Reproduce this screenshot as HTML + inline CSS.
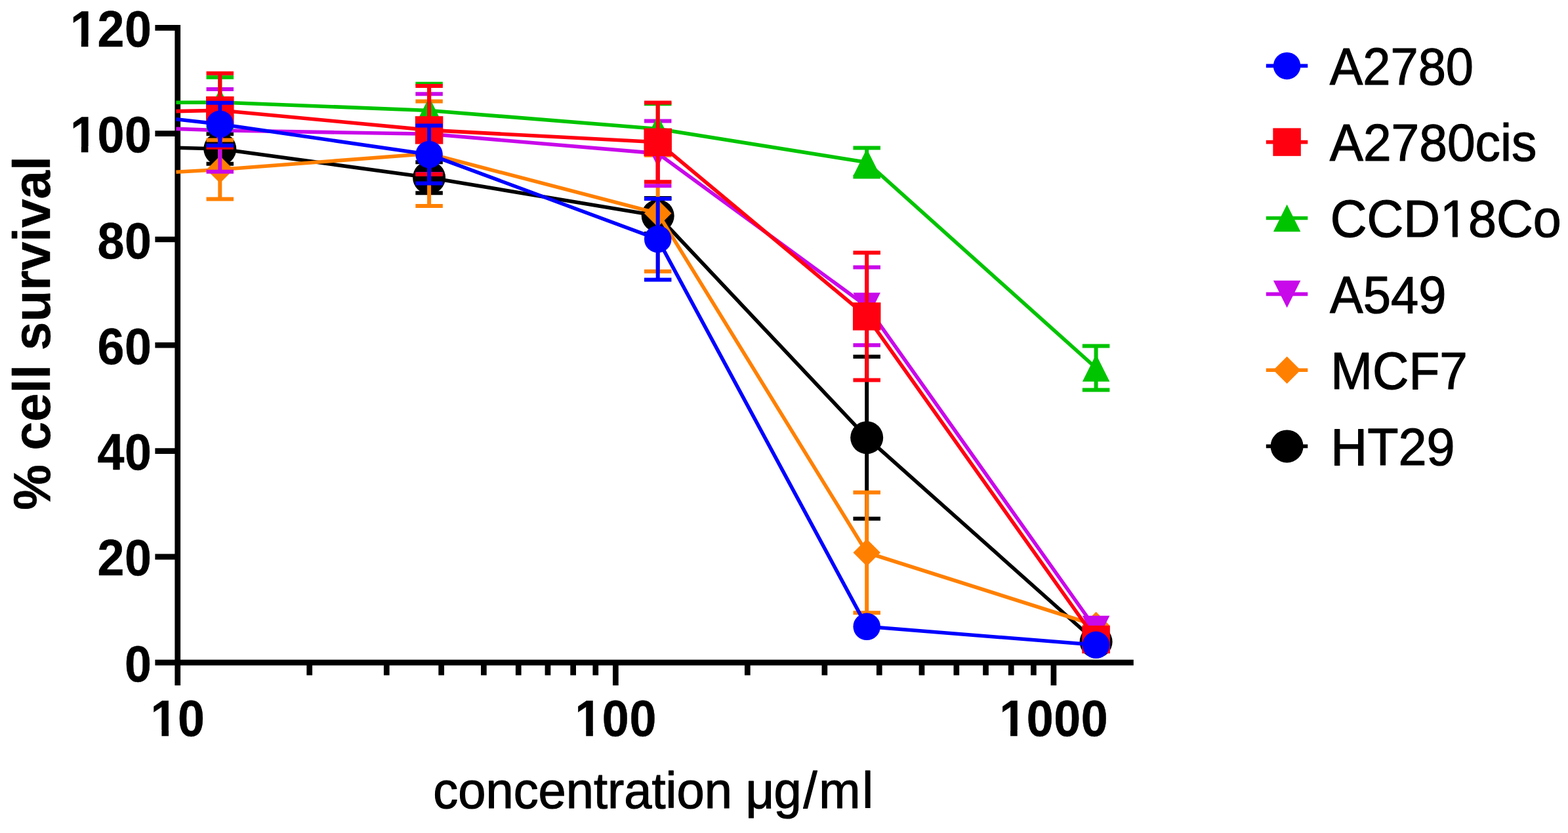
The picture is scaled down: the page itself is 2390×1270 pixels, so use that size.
<!DOCTYPE html>
<html lang="en"><head><meta charset="utf-8"><title>% cell survival vs concentration</title>
<style>
html,body{margin:0;padding:0;background:#fff;}
body{width:2390px;height:1270px;overflow:hidden;}
svg{display:block;filter:blur(0.75px);}
text{font-family:"Liberation Sans",Arial,Helvetica,sans-serif;fill:#000;}
.b{font-weight:bold;}
.r{stroke:#000;stroke-width:1.2px;stroke-linejoin:round;}
.b{stroke:#000;stroke-width:0.5px;stroke-linejoin:round;}
</style></head><body>
<svg width="2390" height="1270" viewBox="0 0 2390 1270" role="img" aria-label="Percent cell survival versus concentration for six cell lines">
<rect width="2390" height="1270" fill="#fff"/>
<g id="axes" stroke="#000" stroke-width="8.7" fill="none" stroke-linecap="butt">
<path d="M270.75 38.05 V1044.9"/>
<path d="M236.4 1010.15 H1727.8"/>
<path d="M236.4 848.86 H270.75 M236.4 687.57 H270.75 M236.4 526.27 H270.75 M236.4 364.98 H270.75 M236.4 203.69 H270.75 M236.4 42.4 H270.75 M938.35 1010.15 V1044.9 M1605.95 1010.15 V1044.9 M471.72 1010.15 V1029.6 M589.28 1010.15 V1029.6 M672.69 1010.15 V1029.6 M737.38 1010.15 V1029.6 M790.24 1010.15 V1029.6 M834.94 1010.15 V1029.6 M873.65 1010.15 V1029.6 M907.8 1010.15 V1029.6 M1139.32 1010.15 V1029.6 M1256.88 1010.15 V1029.6 M1340.29 1010.15 V1029.6 M1404.98 1010.15 V1029.6 M1457.84 1010.15 V1029.6 M1502.54 1010.15 V1029.6 M1541.25 1010.15 V1029.6 M1575.4 1010.15 V1029.6"/>
</g>
<g id="ds-HT29">
<path d="M268.4 225.2 L335.3 227 L654.1 270.8 L1002.7 329 L1321.2 667.2 L1670.6 978.5" fill="none" stroke="#000000" stroke-width="5.6" stroke-linejoin="round" stroke-linecap="butt"/>
<path d="M335.3 204.3 V249.7 M314.55 204.3 H356.05 M314.55 249.7 H356.05 M654.1 247.3 V294.3 M633.35 247.3 H674.85 M633.35 294.3 H674.85 M1002.7 302 V356 M981.95 302 H1023.45 M981.95 356 H1023.45 M1321.2 543.7 V790.7 M1300.45 543.7 H1341.95 M1300.45 790.7 H1341.95" fill="none" stroke="#000000" stroke-width="6"/>
<circle cx="335.3" cy="227" r="25" fill="#000000"/>
<circle cx="654.1" cy="270.8" r="25" fill="#000000"/>
<circle cx="1002.7" cy="329" r="25" fill="#000000"/>
<circle cx="1321.2" cy="667.2" r="25" fill="#000000"/>
<circle cx="1670.6" cy="978.5" r="25" fill="#000000"/>
</g>
<g id="ds-MCF7">
<path d="M268.4 262.3 L335.3 258.5 L654.1 234.3 L1002.7 325.3 L1321.2 842.5 L1670.6 953.5" fill="none" stroke="#ff8000" stroke-width="5.6" stroke-linejoin="round" stroke-linecap="butt"/>
<path d="M335.3 213.6 V303.4 M314.55 213.6 H356.05 M314.55 303.4 H356.05 M654.1 154.6 V314 M633.35 154.6 H674.85 M633.35 314 H674.85 M1002.7 236.8 V413.8 M981.95 236.8 H1023.45 M981.95 413.8 H1023.45 M1321.2 750.75 V934.25 M1300.45 750.75 H1341.95 M1300.45 934.25 H1341.95" fill="none" stroke="#ff8000" stroke-width="6"/>
<polygon points="335.3,237.75 356.05,258.5 335.3,279.25 314.55,258.5" fill="#ff8000"/>
<polygon points="654.1,213.55 674.85,234.3 654.1,255.05 633.35,234.3" fill="#ff8000"/>
<polygon points="1002.7,304.55 1023.45,325.3 1002.7,346.05 981.95,325.3" fill="#ff8000"/>
<polygon points="1321.2,821.75 1341.95,842.5 1321.2,863.25 1300.45,842.5" fill="#ff8000"/>
<polygon points="1670.6,932.75 1691.35,953.5 1670.6,974.25 1649.85,953.5" fill="#ff8000"/>
</g>
<g id="ds-A549">
<path d="M268.4 196.4 L335.3 198.8 L654.1 204.3 L1002.7 233.85 L1321.2 466.9 L1670.6 959.5" fill="none" stroke="#c809ea" stroke-width="5.6" stroke-linejoin="round" stroke-linecap="butt"/>
<path d="M335.3 135.9 V261.7 M314.55 135.9 H356.05 M314.55 261.7 H356.05 M654.1 143.3 V265.3 M633.35 143.3 H674.85 M633.35 265.3 H674.85 M1002.7 184.4 V283.3 M981.95 184.4 H1023.45 M981.95 283.3 H1023.45 M1321.2 407.6 V526.2 M1300.45 407.6 H1341.95 M1300.45 526.2 H1341.95" fill="none" stroke="#c809ea" stroke-width="6"/>
<polygon points="335.3,219.55 356.05,178.05 314.55,178.05" fill="#c809ea"/>
<polygon points="654.1,225.05 674.85,183.55 633.35,183.55" fill="#c809ea"/>
<polygon points="1002.7,254.6 1023.45,213.1 981.95,213.1" fill="#c809ea"/>
<polygon points="1321.2,487.65 1341.95,446.15 1300.45,446.15" fill="#c809ea"/>
<polygon points="1670.6,980.25 1691.35,938.75 1649.85,938.75" fill="#c809ea"/>
</g>
<g id="ds-CCD18Co">
<path d="M268.4 156.2 L335.3 156 L654.1 168.5 L1002.7 196.5 L1321.2 247.5 L1670.6 561" fill="none" stroke="#00c400" stroke-width="5.6" stroke-linejoin="round" stroke-linecap="butt"/>
<path d="M335.3 117.7 V194.3 M314.55 117.7 H356.05 M314.55 194.3 H356.05 M654.1 127.7 V209.3 M633.35 127.7 H674.85 M633.35 209.3 H674.85 M1002.7 158.3 V234.7 M981.95 158.3 H1023.45 M981.95 234.7 H1023.45 M1321.2 225.4 V269.6 M1300.45 225.4 H1341.95 M1300.45 269.6 H1341.95 M1670.6 527.5 V594.5 M1649.85 527.5 H1691.35 M1649.85 594.5 H1691.35" fill="none" stroke="#00c400" stroke-width="6"/>
<polygon points="335.3,135.25 356.05,176.75 314.55,176.75" fill="#00c400"/>
<polygon points="654.1,147.75 674.85,189.25 633.35,189.25" fill="#00c400"/>
<polygon points="1002.7,175.75 1023.45,217.25 981.95,217.25" fill="#00c400"/>
<polygon points="1321.2,226.75 1341.95,268.25 1300.45,268.25" fill="#00c400"/>
<polygon points="1670.6,540.25 1691.35,581.75 1649.85,581.75" fill="#00c400"/>
</g>
<g id="ds-A2780cis">
<path d="M268.4 169.6 L335.3 168.2 L654.1 198.4 L1002.7 216.8 L1321.2 482.4 L1670.6 975" fill="none" stroke="#ff0010" stroke-width="5.6" stroke-linejoin="round" stroke-linecap="butt"/>
<path d="M335.3 111.7 V224.7 M314.55 111.7 H356.05 M314.55 224.7 H356.05 M654.1 131.1 V265.7 M633.35 131.1 H674.85 M633.35 265.7 H674.85 M1002.7 156.4 V277.2 M981.95 156.4 H1023.45 M981.95 277.2 H1023.45 M1321.2 385.3 V579.5 M1300.45 385.3 H1341.95 M1300.45 579.5 H1341.95" fill="none" stroke="#ff0010" stroke-width="6"/>
<rect x="314.05" y="146.95" width="42.5" height="42.5" fill="#ff0010"/>
<rect x="632.85" y="177.15" width="42.5" height="42.5" fill="#ff0010"/>
<rect x="981.45" y="195.55" width="42.5" height="42.5" fill="#ff0010"/>
<rect x="1299.95" y="461.15" width="42.5" height="42.5" fill="#ff0010"/>
<rect x="1649.35" y="953.75" width="42.5" height="42.5" fill="#ff0010"/>
</g>
<g id="ds-A2780">
<path d="M268.4 181.7 L335.3 189.2 L654.1 235.5 L1002.7 364.7 L1321.2 955.3 L1670.6 983.3" fill="none" stroke="#0000ff" stroke-width="5.6" stroke-linejoin="round" stroke-linecap="butt"/>
<path d="M335.3 156.7 V221.7 M314.55 156.7 H356.05 M314.55 221.7 H356.05 M654.1 191.5 V279.5 M633.35 191.5 H674.85 M633.35 279.5 H674.85 M1002.7 303 V426.4 M981.95 303 H1023.45 M981.95 426.4 H1023.45" fill="none" stroke="#0000ff" stroke-width="6"/>
<circle cx="335.3" cy="189.2" r="20.75" fill="#0000ff"/>
<circle cx="654.1" cy="235.5" r="20.75" fill="#0000ff"/>
<circle cx="1002.7" cy="364.7" r="20.75" fill="#0000ff"/>
<circle cx="1321.2" cy="955.3" r="20.75" fill="#0000ff"/>
<circle cx="1670.6" cy="983.3" r="20.75" fill="#0000ff"/>
</g>
<g id="legend">
<path d="M1929.8 100.4 H1993.3" stroke="#0000ff" stroke-width="5.6" fill="none"/>
<circle cx="1961.6" cy="100.4" r="20.75" fill="#0000ff"/>
<text class="r" transform="translate(2026.8 129) scale(0.942 1)" font-size="80.5">A2780</text>
<path d="M1929.8 216.6 H1993.3" stroke="#ff0010" stroke-width="5.6" fill="none"/>
<rect x="1940.35" y="195.35" width="42.5" height="42.5" fill="#ff0010"/>
<text class="r" transform="translate(2026.8 245.2) scale(0.9527 1)" font-size="80.5">A2780cis</text>
<path d="M1929.8 332.5 H1993.3" stroke="#00c400" stroke-width="5.6" fill="none"/>
<polygon points="1961.6,311.75 1982.35,353.25 1940.85,353.25" fill="#00c400"/>
<text class="r" transform="translate(2027.8 361.1) scale(0.959 1)" font-size="80.5">CCD18Co</text>
<rect x="2198.96" y="353.49" width="14.93" height="9.41" fill="#fff"/><rect x="2221.86" y="353.49" width="14.33" height="9.41" fill="#fff"/>
<path d="M1929.8 448.4 H1993.3" stroke="#c809ea" stroke-width="5.6" fill="none"/>
<polygon points="1961.6,469.15 1982.35,427.65 1940.85,427.65" fill="#c809ea"/>
<text class="r" transform="translate(2027.1 477) scale(0.943 1)" font-size="80.5">A549</text>
<path d="M1929.8 564.2 H1993.3" stroke="#ff8000" stroke-width="5.6" fill="none"/>
<polygon points="1961.6,543.45 1982.35,564.2 1961.6,584.95 1940.85,564.2" fill="#ff8000"/>
<text class="r" transform="translate(2028.3 592.8) scale(0.9515 1)" font-size="80.5">MCF7</text>
<path d="M1929.8 680.4 H1993.3" stroke="#000000" stroke-width="5.6" fill="none"/>
<circle cx="1961.6" cy="680.4" r="25" fill="#000000"/>
<text class="r" transform="translate(2028.3 709) scale(0.962 1)" font-size="80.5">HT29</text>
</g>
<g id="ticklabels">
<text class="b" transform="translate(190.05 1038.75) scale(0.938 1)" font-size="78.5" letter-spacing="0.65">0</text>
<text class="b" transform="translate(148.49 877.46) scale(0.938 1)" font-size="78.5" letter-spacing="0.65">20</text>
<text class="b" transform="translate(148.49 716.17) scale(0.938 1)" font-size="78.5" letter-spacing="0.65">40</text>
<text class="b" transform="translate(148.49 554.87) scale(0.938 1)" font-size="78.5" letter-spacing="0.65">60</text>
<text class="b" transform="translate(148.49 393.58) scale(0.938 1)" font-size="78.5" letter-spacing="0.65">80</text>
<text class="b" transform="translate(106.93 232.29) scale(0.938 1)" font-size="78.5" letter-spacing="0.65">100</text>
<rect x="109.93" y="223.03" width="13.95" height="10.71" fill="#fff"/><rect x="134.45" y="223.03" width="13.01" height="10.71" fill="#fff"/>
<text class="b" transform="translate(106.93 71) scale(0.938 1)" font-size="78.5" letter-spacing="0.65">120</text>
<rect x="109.93" y="61.74" width="13.95" height="10.71" fill="#fff"/><rect x="134.45" y="61.74" width="13.01" height="10.71" fill="#fff"/>
<text class="b" transform="translate(229.49 1122.3) scale(0.938 1)" font-size="78.5" letter-spacing="0.65">10</text>
<rect x="232.5" y="1113.04" width="13.95" height="10.71" fill="#fff"/><rect x="257.02" y="1113.04" width="13.01" height="10.71" fill="#fff"/>
<text class="b" transform="translate(876.31 1122.3) scale(0.938 1)" font-size="78.5" letter-spacing="0.65">100</text>
<rect x="879.32" y="1113.04" width="13.95" height="10.71" fill="#fff"/><rect x="903.84" y="1113.04" width="13.01" height="10.71" fill="#fff"/>
<text class="b" transform="translate(1523.13 1122.3) scale(0.938 1)" font-size="78.5" letter-spacing="0.65">1000</text>
<rect x="1526.14" y="1113.04" width="13.95" height="10.71" fill="#fff"/><rect x="1550.66" y="1113.04" width="13.01" height="10.71" fill="#fff"/>
</g>
<text class="r" font-size="78" transform="translate(0 1232.4) scale(0.973 1)"><tspan x="678.62">concentration</tspan><tspan x="1146.35"> μ</tspan><tspan x="1212.23" letter-spacing="2.8">g/ml</tspan></text>
<text class="b" transform="translate(76.3 508) rotate(-90) scale(0.985 1)" font-size="79.5" text-anchor="middle">% cell survival</text>
</svg></body></html>
